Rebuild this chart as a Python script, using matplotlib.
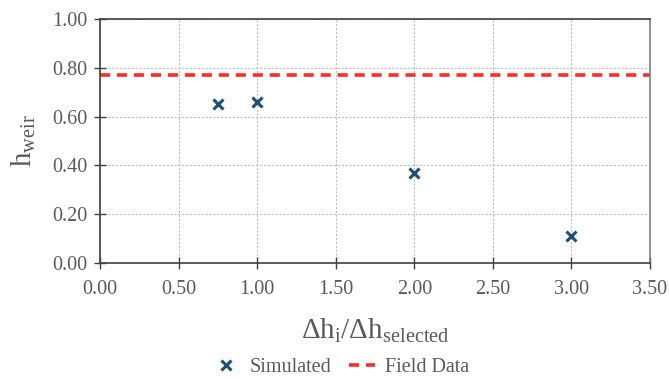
import matplotlib
matplotlib.use("Agg")
import matplotlib.pyplot as plt

# ---- data -------------------------------------------------------------------
dh_ratio = [0.75, 1.0, 2.0, 3.0]
h_weir_sim = [0.65, 0.66, 0.37, 0.11]
h_weir_field = 0.77

x_ticks = [0.0, 0.5, 1.0, 1.5, 2.0, 2.5, 3.0, 3.5]
y_ticks = [0.0, 0.2, 0.4, 0.6, 0.8, 1.0]

TXT = "#595959"
plt.rcParams["font.family"] = ["Liberation Serif", "DejaVu Serif"]
plt.rcParams["mathtext.fontset"] = "custom"
plt.rcParams["mathtext.rm"] = "Liberation Serif"
plt.rcParams["mathtext.it"] = "Liberation Serif"

fig = plt.figure(figsize=(6.69, 3.79), dpi=100)
ax = fig.add_axes([0.1495, 0.306, 0.8221, 0.644])

ax.plot(dh_ratio, h_weir_sim, linestyle="none", marker="x", markersize=7,
        markeredgewidth=2.2, color="#1F4E79", label="Simulated")
ax.axhline(h_weir_field, color="#FF2A2A", linestyle=(0, (2.8, 1.9)),
           linewidth=2.6, label="Field Data")

ax.set_xlim(0, 3.5)
ax.set_ylim(0, 1.0)
ax.set_xticks(x_ticks)
ax.set_yticks(y_ticks)
ax.set_xticklabels([f"{v:.2f}" for v in x_ticks])
ax.set_yticklabels([f"{v:.2f}" for v in y_ticks])
ax.tick_params(direction="inout", length=8, width=1, colors="#404040",
               labelcolor=TXT, labelsize=14.5)
ax.tick_params(axis="x", pad=8)
ax.tick_params(axis="y", pad=5)

ax.grid(True, color="#BDBDBD", linestyle=(0, (2, 1.5)), linewidth=0.8)
ax.set_axisbelow(True)
for side in ("left", "bottom", "top"):
    ax.spines[side].set_color("#404040")
    ax.spines[side].set_linewidth(1.2)
ax.spines["right"].set_color("#808080")
ax.spines["right"].set_linewidth(1.2)

ax.set_xlabel(r"$\Delta$h$_\mathrm{i}$/$\Delta$h$_\mathrm{selected}$",
              fontsize=21, color=TXT, labelpad=13)
ax.set_ylabel(r"h$_\mathrm{weir}$", fontsize=21, color=TXT, labelpad=10)

fig.legend(loc="lower center", bbox_to_anchor=(0.51, -0.042), ncol=2,
           frameon=False, fontsize=14.5, labelcolor=TXT, handlelength=1.3,
           columnspacing=0.9, handletextpad=0.5)

fig.savefig("out.png", dpi=100)
